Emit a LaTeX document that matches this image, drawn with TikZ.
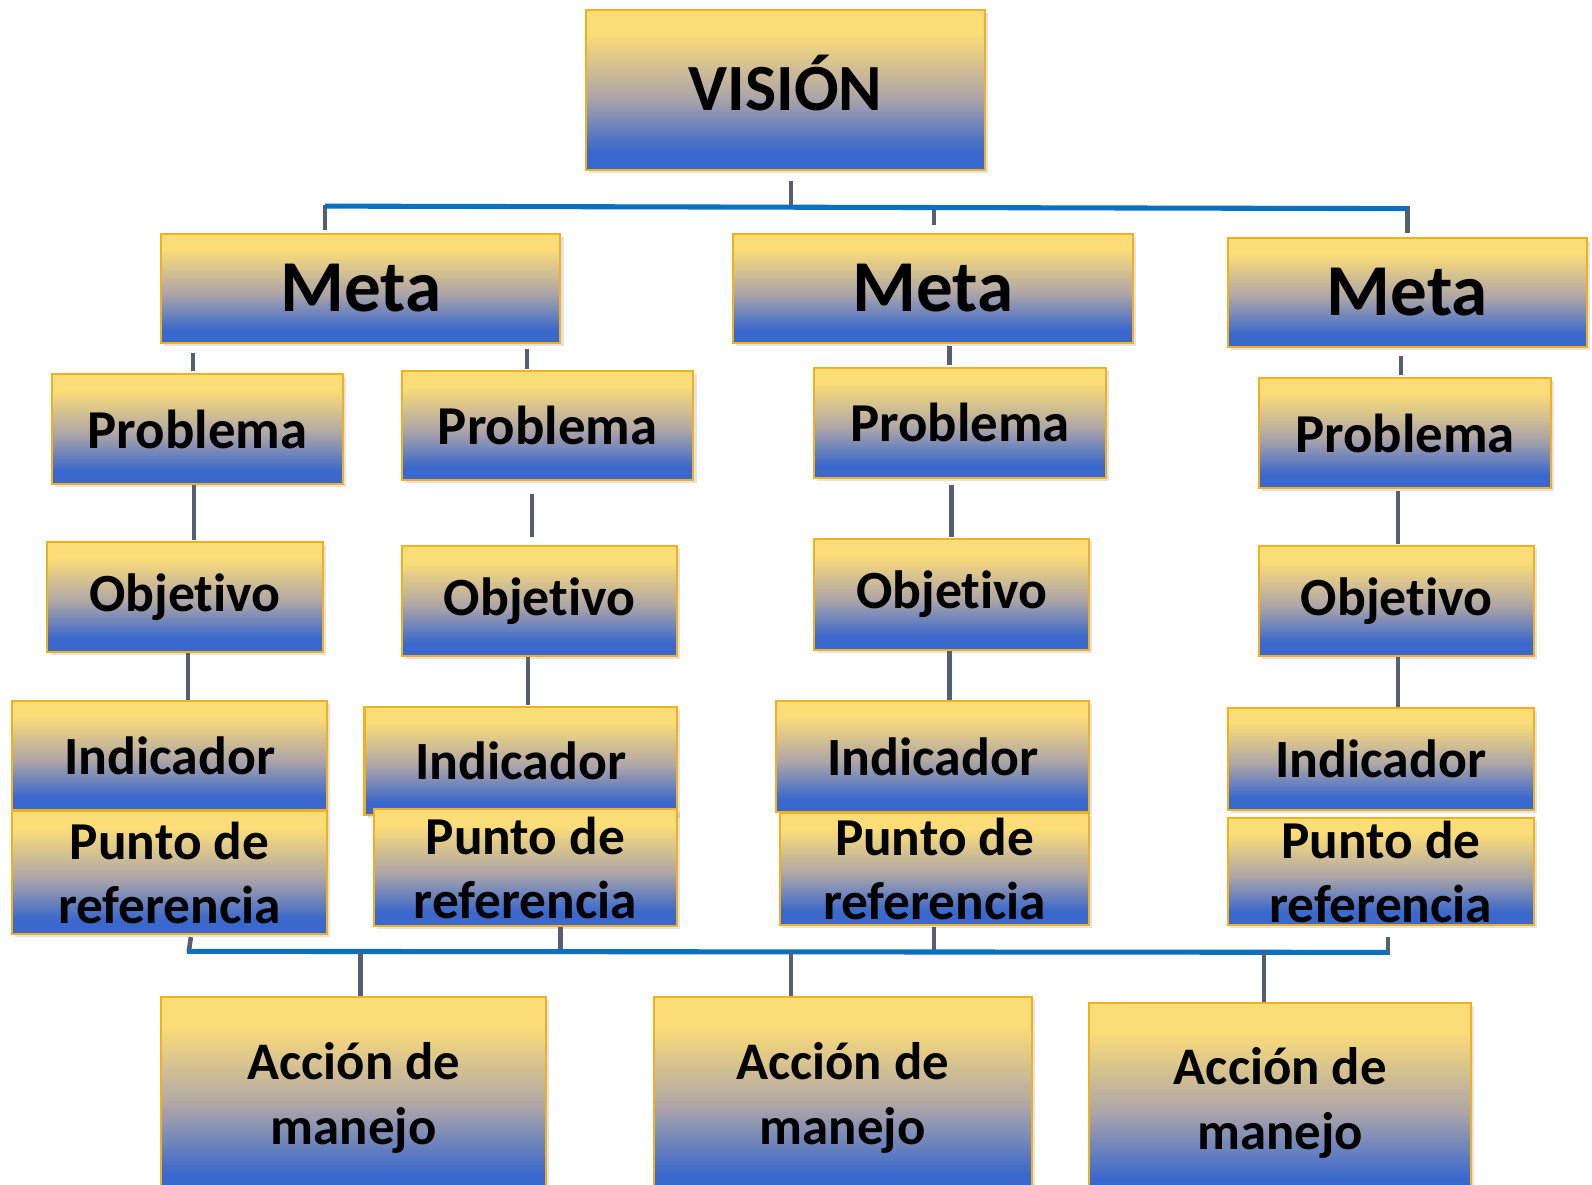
\documentclass[tikz,border=0pt]{standalone}
\usepackage{fontspec}
\setmainfont[Ligatures={NoCommon,NoContextual},RawFeature={-calt;-dlig}]{Carlito}
\usetikzlibrary{shadows}
\definecolor{cYel}{RGB}{252,221,120}
\definecolor{cGray}{RGB}{174,166,168}
\definecolor{cBlue}{RGB}{58,104,204}
\definecolor{cBord}{RGB}{241,176,30}
\definecolor{cStub}{RGB}{84,95,116}
\definecolor{cBus}{RGB}{12,112,192}
\pgfdeclareverticalshading{ybshade}{100bp}{color(0bp)=(cBlue); color(31bp)=(cBlue); color(48bp)=(cGray); color(68bp)=(cYel); color(100bp)=(cYel)}
\tikzset{
  box/.style={draw=cBord, line width=2pt, shading=ybshade, inner sep=0pt,
    align=center, text=black,
    drop shadow={opacity=0.22, shadow xshift=3pt, shadow yshift=-3pt}},
  stub/.style={draw=cStub, line width=4.5pt},
  bus/.style={draw=cBus, line width=5pt},
  fvision/.style={font=\fontsize{65}{70}\bfseries\selectfont, text height=41pt, text depth=0pt},
  fmeta/.style={font=\fontsize{72}{80}\bfseries\selectfont},
  fprob/.style={font=\fontsize{54}{60}\bfseries\selectfont},
  fobj/.style={font=\fontsize{53}{60}\bfseries\selectfont},
  find/.style={font=\fontsize{53}{60}\bfseries\selectfont},
  fpun/.style={font=\fontsize{52.5}{63}\bfseries\selectfont},
  facc/.style={font=\fontsize{52}{64}\bfseries\selectfont},
}
\newcommand\objtxt{Objet\kern0pt ivo}
% \bx[style]{name}{x1}{y1}{x2}{y2}{text}
\newcommand\bx[7][]{\node[box,#1,minimum width={(#5-#3)*1pt},minimum height={(#6-#4)*1pt}] (#2) at ({(#3+#5)/2},{(#4+#6)/2}) {#7};}
\begin{document}
\begin{tikzpicture}[x=1pt,y=-1pt]
\useasboundingbox (0,0) rectangle (1568,1167);
\fill[white] (0,0) rectangle (1568,1167);

% boxes
\bx[fvision]{vision}{577}{10}{970}{167}{VISIÓN}
\bx[fmeta]{meta1}{159}{230}{552}{338}{Meta}
\bx[fmeta]{meta2}{722}{230}{1116}{338}{Meta}
\bx[fmeta]{meta3}{1209}{234}{1563}{342}{Meta}
\bx[fprob]{prob1}{51}{368}{338}{477}{Problema}
\bx[fprob]{prob2}{396}{365}{683}{473}{Problema}
\bx[fprob]{prob3}{802}{362}{1089}{471}{Problema}
\bx[fprob]{prob4}{1240}{372}{1528}{481}{Problema}
\bx[fobj]{obj1}{46}{534}{318}{642}{\objtxt}
\bx[fobj]{obj2}{396}{538}{667}{646}{\objtxt}
\bx[fobj]{obj3}{802}{531}{1073}{640}{\objtxt}
\bx[fobj]{obj4}{1240}{538}{1511}{646}{\objtxt}
\bx[find]{ind1}{12}{690}{322}{798}{Indicador}
\bx[find]{ind2}{359}{696}{667}{803}{Indicador}
\bx[find]{ind3}{764}{690}{1073}{800}{Indicador}
\bx[find]{ind4}{1209}{697}{1511}{798}{Indicador}
\bx[fpun]{pun1}{12}{799}{322}{920}{Punto de\\referencia}
\bx[fpun]{pun2}{368}{797}{667}{912}{Punto de\\referencia}
\bx[fpun]{pun3}{768}{801}{1073}{911}{Punto de\\referencia}
\bx[fpun]{pun4}{1209}{806}{1511}{911}{Punto de\\referencia}
\bx[facc]{acc1}{159}{982}{538}{1180}{Acción de\\manejo}
\bx[facc]{acc2}{644}{982}{1016}{1180}{Acción de\\manejo}
\bx[facc]{acc3}{1073}{988}{1449}{1184}{Acción de\\manejo}

% bus coordinates
\coordinate (tbL) at (320,203);
\coordinate (tbR) at (1386,205.5);
\coordinate (tV) at (779,204.5);
\coordinate (tM2) at (920,204.5);
\coordinate (bbL) at (184,937);
\coordinate (bbR) at (1367,938);
\coordinate (bP1) at (186,937);
\coordinate (bP2) at (552,937);
\coordinate (bP3) at (920,937.5);
\coordinate (bP4) at (1367,941);
\coordinate (bA1) at (355,938);
\coordinate (bA2) at (779,938);
\coordinate (bA3) at (1245,938);

% top level stubs
\draw[stub] ([xshift=5.5pt,yshift=-10pt]vision.south) -- (tV);
\draw[stub] ([yshift=1pt]tbL) -- ([xshift=-35.5pt,yshift=2pt]meta1.north);
\draw[stub] (tM2) -- ([xshift=1pt,yshift=7pt]meta2.north);
\draw[stub] ([yshift=3pt]tbR) -- ([yshift=4pt]meta3.north);
\draw[bus] (tbL) -- (tbR);

% meta -> problema
\draw[stub] ([xshift=-165.5pt,yshift=-9pt]meta1.south) -- ([xshift=-4.5pt,yshift=2pt]prob1.north);
\draw[stub] ([xshift=163.5pt,yshift=-5pt]meta1.south) -- ([xshift=-20.5pt,yshift=1pt]prob2.north);
\draw[stub] ([xshift=16pt,yshift=-2pt]meta2.south) -- ([xshift=-10.5pt,yshift=2pt]prob3.north);
\draw[stub] ([xshift=-6pt,yshift=-8pt]meta3.south) -- ([xshift=-4pt,yshift=2pt]prob4.north);

% problema -> objetivo
\draw[stub] ([xshift=-3.5pt]prob1.south) -- ([xshift=9pt,yshift=1pt]obj1.north);
\draw[stub] ([xshift=-15.5pt,yshift=-13pt]prob2.south) -- ([xshift=-7.5pt,yshift=8pt]obj2.north);
\draw[stub] ([xshift=-8.5pt,yshift=-6pt]prob3.south) -- ([xshift=-0.5pt,yshift=1pt]obj3.north);
\draw[stub] ([xshift=-7pt,yshift=-2pt]prob4.south) -- ([xshift=1.5pt,yshift=1pt]obj4.north);

% objetivo -> indicador
\draw[stub] ([xshift=3pt]obj1.south) -- ([xshift=18pt]ind1.north);
\draw[stub] ([xshift=-11.5pt]obj2.south) -- ([xshift=7pt,yshift=1pt]ind2.north);
\draw[stub] ([xshift=-2.5pt]obj3.south) -- ([xshift=16.5pt]ind3.north);
\draw[stub] ([xshift=1.5pt]obj4.south) -- ([xshift=17pt]ind4.north);

% punto -> bottom bus
\draw[stub] ([xshift=21pt,yshift=-2pt]pun1.south) -- (bP1);
\draw[stub] ([xshift=34.5pt]pun2.south) -- (bP2);
\draw[stub] ([xshift=-0.5pt,yshift=-1pt]pun3.south) -- (bP3);
\draw[stub] ([xshift=7pt,yshift=-11pt]pun4.south) -- (bP4);
\draw[bus] (bbL) -- (bbR);

% bottom bus -> accion
\draw[stub] (bA1) -- ([xshift=6.5pt]acc1.north);
\draw[stub] (bA2) -- ([xshift=-51pt]acc2.north);
\draw[stub] (bA3) -- ([xshift=-16pt]acc3.north);
\end{tikzpicture}
\end{document}
